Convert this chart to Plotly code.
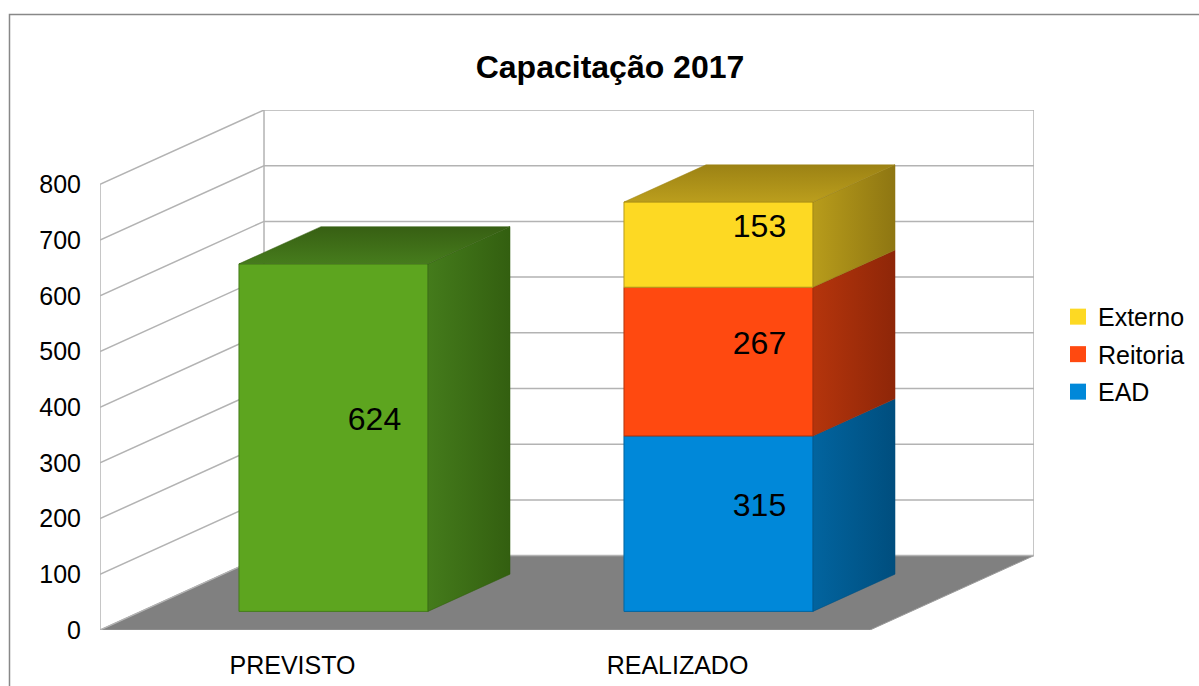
import plotly.graph_objects as go

# ---------------- data ----------------
categories = ["PREVISTO", "REALIZADO"]
previsto = [624, 0]
ead = [0, 315]
reitoria = [0, 267]
externo = [0, 153]
y_ticks = [0, 100, 200, 300, 400, 500, 600, 700, 800]

# series drawn bottom-up: name, values, front, side light, side dark, top front, top back, in legend
series = [
    ("PREVISTO", previsto, "#5da51f", "#447b1b", "#335f10", "#467c1c", "#375f13", False),
    ("EAD", ead, "#0088d9", "#02649f", "#004e7e", "#0270b0", "#00588c", True),
    ("Reitoria", reitoria, "#ff4910", "#b5350c", "#8e2608", "#c23a0e", "#9a2a08", True),
    ("Externo", externo, "#fdd923", "#b89c1b", "#8e7612", "#bb9e1d", "#9c8214", True),
]
legend_order = ["Externo", "Reitoria", "EAD"]

# 3D oblique projection parameters
DEPTH_X = 0.426     # in category units
DEPTH_Y = 133.6     # in value units
BAR_W = 0.491
Y_MAX = max(y_ticks)
GRID = "#b3b3b3"

fig = go.Figure()

x0 = -0.5
x1 = len(categories) - 0.5

# floor
fig.add_trace(go.Scatter(
    x=[x0, x1, x1 + DEPTH_X, x0 + DEPTH_X, x0],
    y=[0, 0, DEPTH_Y, DEPTH_Y, 0],
    fill="toself", fillcolor="#808080", mode="lines",
    line=dict(color="#9a9a9a", width=1), hoverinfo="skip", showlegend=False))

# walls: grid lines on side wall and back wall
gx, gy = [], []
for v in y_ticks:
    gx += [x0, x0 + DEPTH_X, x1 + DEPTH_X, None]
    gy += [v, v + DEPTH_Y, v + DEPTH_Y, None]
gx += [x0, x0, None, x0 + DEPTH_X, x0 + DEPTH_X, None, x1 + DEPTH_X, x1 + DEPTH_X, None]
gy += [0, Y_MAX, None, DEPTH_Y, Y_MAX + DEPTH_Y, None, DEPTH_Y, Y_MAX + DEPTH_Y, None]
fig.add_trace(go.Scatter(x=gx, y=gy, mode="lines", line=dict(color=GRID, width=1.5),
                         hoverinfo="skip", showlegend=False))

# bars
lab_x, lab_y, lab_t = [], [], []
dx = 0.5 * DEPTH_X
dy = 0.5 * DEPTH_Y
for ci, cat in enumerate(categories):
    base = 0.25 * DEPTH_Y
    xl = ci + 0.25 * DEPTH_X - BAR_W / 2
    xr = xl + BAR_W
    stack = [s for s in series if s[1][ci] > 0]
    for k, (name, vals, cf, cs1, cs2, ct1, ct2, _) in enumerate(stack):
        v = vals[ci]
        b = base
        t = base + v
        # front face
        fig.add_trace(go.Scatter(
            x=[xl, xr, xr, xl, xl], y=[b, b, t, t, b], fill="toself", fillcolor=cf,
            mode="lines", line=dict(color=cs1, width=1), hoverinfo="skip", showlegend=False))
        # side face
        fig.add_trace(go.Scatter(
            x=[xr, xr + dx, xr + dx, xr, xr], y=[b, b + dy, t + dy, t, b], fill="toself",
            fillgradient=dict(type="horizontal", colorscale=[[0, cs1], [1, cs2]]),
            mode="lines", line=dict(color=cs2, width=0.5), hoverinfo="skip", showlegend=False))
        if k == len(stack) - 1:
            fig.add_trace(go.Scatter(
                x=[xl, xr, xr + dx, xl + dx, xl], y=[t, t, t + dy, t + dy, t], fill="toself",
                fillgradient=dict(type="vertical", colorscale=[[0, ct1], [1, ct2]]),
                mode="lines", line=dict(color=ct2, width=0.5), hoverinfo="skip", showlegend=False))
        lab_x.append(ci + 0.5 * DEPTH_X)
        lab_y.append(b + v / 2 + 0.42 * dy)
        lab_t.append(str(v))
        base = t

fig.add_trace(go.Scatter(x=lab_x, y=lab_y, text=lab_t, mode="text",
                         textfont=dict(size=32, color="black"), hoverinfo="skip", showlegend=False))

# legend entries
for nm in legend_order:
    s = [s for s in series if s[0] == nm][0]
    fig.add_trace(go.Scatter(x=[None], y=[None], mode="markers", name=nm, legendgroup=nm,
                             marker=dict(symbol="square", size=16, color=s[2]), showlegend=True))

fig.update_layout(
    width=1199, height=686,
    margin=dict(l=100, r=165, t=110, b=56, autoexpand=False),
    paper_bgcolor="white", plot_bgcolor="white",
    font=dict(family="Liberation Sans, Arial, sans-serif", size=25, color="black"),
    title=dict(text="<b>Capacitação 2017</b>", x=610 / 1199, xref="container", xanchor="center",
               y=1 - 67 / 686, yref="container", yanchor="middle", font=dict(size=32)),
    xaxis=dict(range=[x0, x1 + DEPTH_X], tickmode="array", tickvals=list(range(len(categories))),
               ticktext=categories, showgrid=False, zeroline=False, showline=False, ticks="",
               ticklabelstandoff=18, automargin=False),
    yaxis=dict(range=[0, Y_MAX + DEPTH_Y], tickmode="array", tickvals=y_ticks, showgrid=False,
               zeroline=False, showline=False, ticks="", ticklabelstandoff=18, automargin=False),
    legend=dict(x=1.0257, xanchor="left", y=0.53, yanchor="middle", traceorder="grouped",
                tracegroupgap=2, font=dict(size=25), bgcolor="rgba(0,0,0,0)"),
    shapes=[dict(type="rect", xref="paper", yref="paper", x0=-0.0969, y0=-0.2, x1=1.2, y1=1.1837,
                 line=dict(color="#888888", width=1.5), fillcolor="rgba(0,0,0,0)", layer="below")],
)

fig.write_html("out.html", config={"displayModeBar": False})
